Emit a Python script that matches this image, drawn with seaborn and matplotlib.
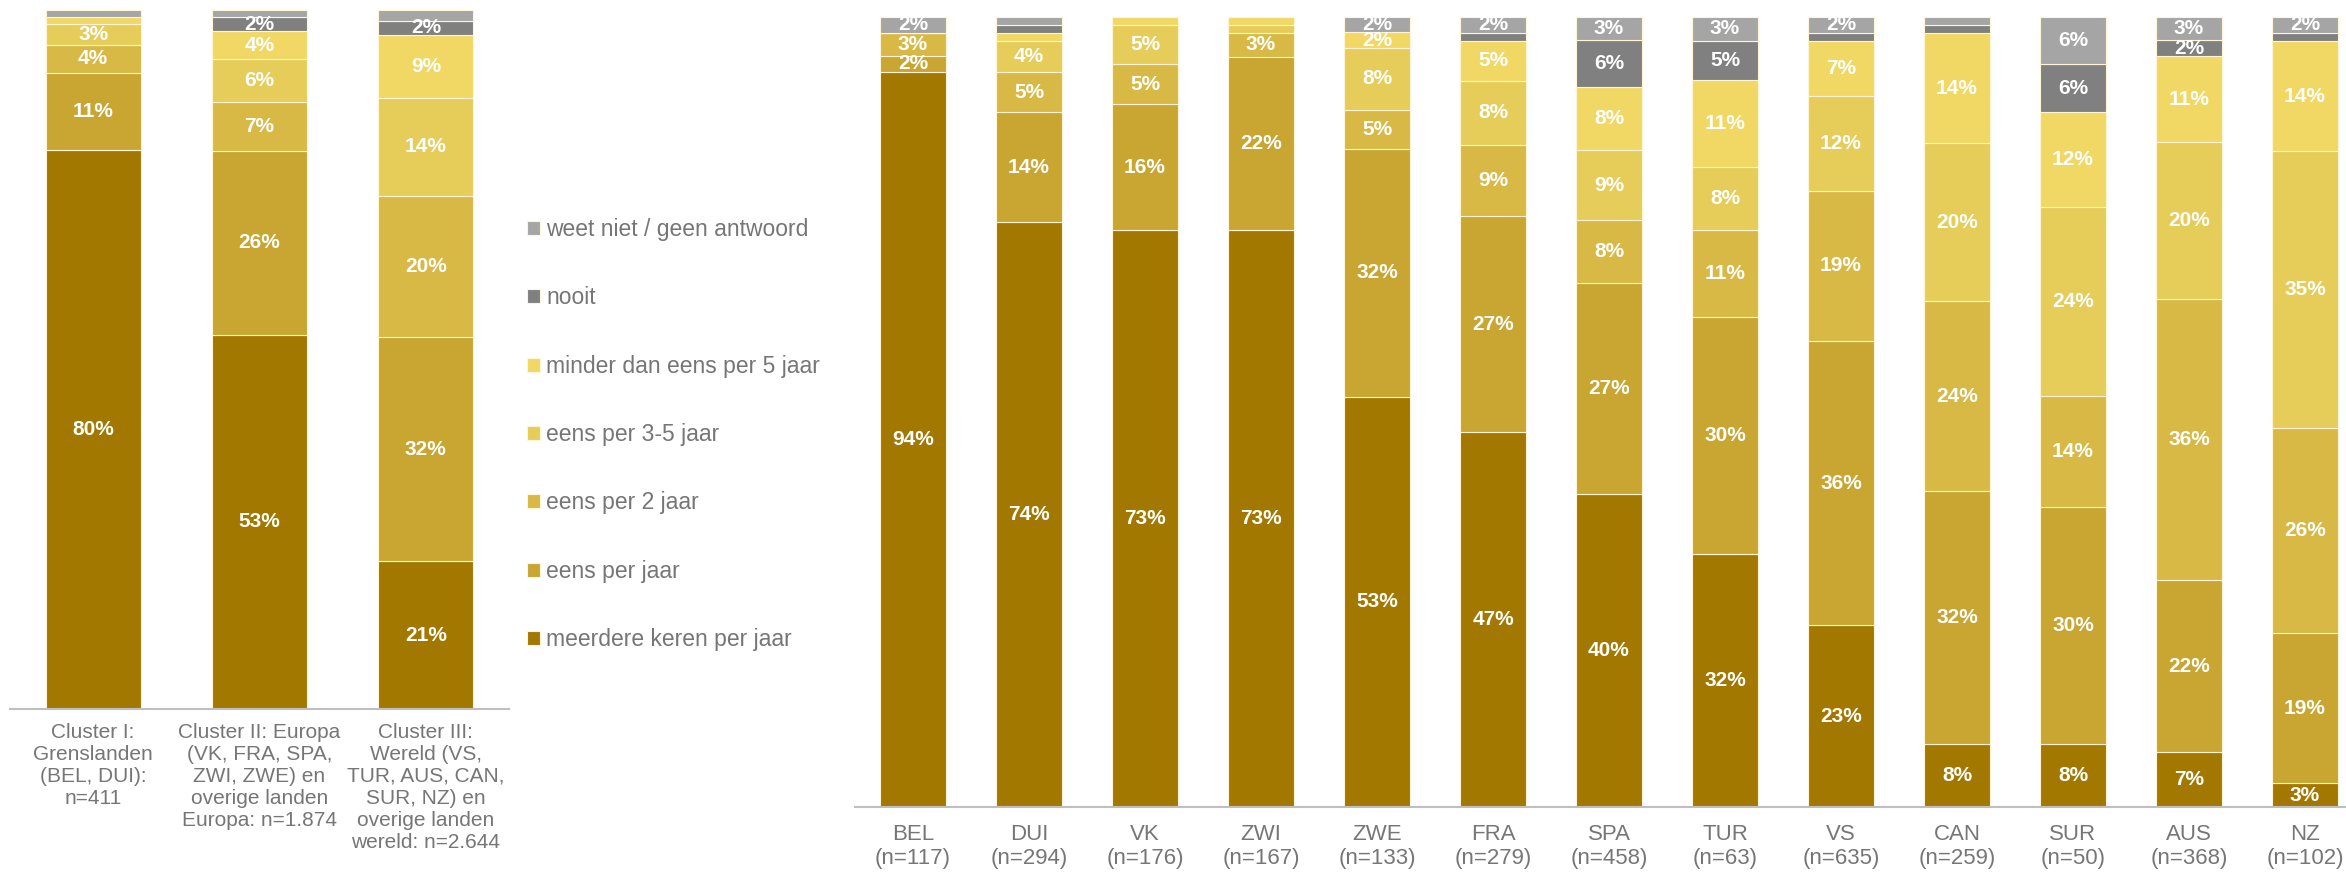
import numpy as np
import seaborn as sns
import matplotlib.pyplot as plt

sns.set_theme(style='white')
plt.rcParams['font.family'] = ['Liberation Sans', 'DejaVu Sans']

# categorieën (van onder naar boven gestapeld) en kleuren
categorieen = ['meerdere keren per jaar', 'eens per jaar', 'eens per 2 jaar',
               'eens per 3-5 jaar', 'minder dan eens per 5 jaar', 'nooit',
               'weet niet / geen antwoord']
kleuren = ['#A37800', '#C9A531', '#D8B945', '#E6CC59', '#F1D864', '#808080', '#A5A5A5']

# clusters (links)
clusters = ['Cluster I:\nGrenslanden\n(BEL, DUI):\nn=411',
            'Cluster II: Europa\n(VK, FRA, SPA,\nZWI, ZWE) en\noverige landen\nEuropa: n=1.874',
            'Cluster III:\nWereld (VS,\nTUR, AUS, CAN,\nSUR, NZ) en\noverige landen\nwereld: n=2.644']
cl_meerdere = [80, 53, 21]
cl_per_jaar = [11, 26, 32]
cl_per_2 = [4, 7, 20]
cl_per_35 = [3, 6, 14]
cl_minder = [1, 4, 9]
cl_nooit = [0, 2, 2]
cl_weetniet = [1, 1, 1.5]

# landen (rechts)
landen = ['BEL\n(n=117)', 'DUI\n(n=294)', 'VK\n(n=176)', 'ZWI\n(n=167)', 'ZWE\n(n=133)',
          'FRA\n(n=279)', 'SPA\n(n=458)', 'TUR\n(n=63)', 'VS\n(n=635)', 'CAN\n(n=259)',
          'SUR\n(n=50)', 'AUS\n(n=368)', 'NZ\n(n=102)']
la_meerdere = [94, 74, 73, 73, 53, 47, 40, 32, 23, 8, 8, 7, 3]
la_per_jaar = [2, 14, 16, 22, 32, 27, 27, 30, 36, 32, 30, 22, 19]
la_per_2 = [3, 5, 5, 3, 5, 9, 8, 11, 19, 24, 14, 36, 26]
la_per_35 = [0, 4, 5, 1, 8, 8, 9, 8, 12, 20, 24, 20, 35]
la_minder = [0, 1, 1, 1, 2, 5, 8, 11, 7, 14, 12, 11, 14]
la_nooit = [0, 1, 0, 0, 0, 1, 6, 5, 1, 1, 6, 2, 1]
la_weetniet = [2, 1, 0, 0, 2, 2, 3, 3, 2, 1, 6, 3, 2]

W, H = 2346, 875
fig = plt.figure(figsize=(W / 100, H / 100), dpi=100)
ax1 = fig.add_axes([10 / W, (H - 709) / H, 499 / W, 699 / H])
ax2 = fig.add_axes([855 / W, (H - 807) / H, 1508 / W, 790 / H])


def teken(ax, labels, reeksen, fs_pct, fs_tick, pad):
    waarden = np.array(reeksen, dtype=float)
    aandeel = waarden / waarden.sum(axis=0) * 100  # 100% gestapeld
    bodem = np.zeros(len(labels))
    for cat, kleur, rij, ruw in zip(categorieen, kleuren, aandeel, waarden):
        sns.barplot(x=labels, y=rij, bottom=bodem, color=kleur, saturation=1,
                    width=0.57, edgecolor='#FFF4D6', linewidth=0.8,
                    errorbar=None, label=cat, ax=ax)
        for i, (h, v) in enumerate(zip(rij, ruw)):
            if v >= 2:
                ax.text(i, bodem[i] + h / 2, f'{v:.0f}%', ha='center', va='center',
                        color='white', fontsize=fs_pct, fontweight='bold')
        bodem = bodem + rij
    if ax.get_legend() is not None:
        ax.get_legend().remove()
    ax.set_ylim(0, 100)
    ax.set_xlim(-0.5, len(labels) - 0.5)
    ax.set_yticks([])
    ax.set_ylabel('')
    sns.despine(ax=ax, left=True, top=True, right=True)
    ax.spines['bottom'].set_color('#BFBFBF')
    ax.spines['bottom'].set_linewidth(1.5)
    ax.tick_params(axis='x', length=0, pad=pad, labelsize=fs_tick, labelcolor='#767676')


teken(ax1, clusters, [cl_meerdere, cl_per_jaar, cl_per_2, cl_per_35, cl_minder,
                      cl_nooit, cl_weetniet], 15, 15, 10)
teken(ax2, landen, [la_meerdere, la_per_jaar, la_per_2, la_per_35, la_minder,
                    la_nooit, la_weetniet], 15, 16, 12)

handles, labels = ax1.get_legend_handles_labels()
fig.legend(handles[::-1], labels[::-1], loc='upper left',
           bbox_to_anchor=(527 / W, 1 - 218 / H), frameon=False,
           fontsize=16.5, labelcolor='#767676', handlelength=0.55, handleheight=0.55,
           handletextpad=0.3, labelspacing=1.98, borderpad=0, borderaxespad=0)

fig.savefig('out.png', dpi=100)
